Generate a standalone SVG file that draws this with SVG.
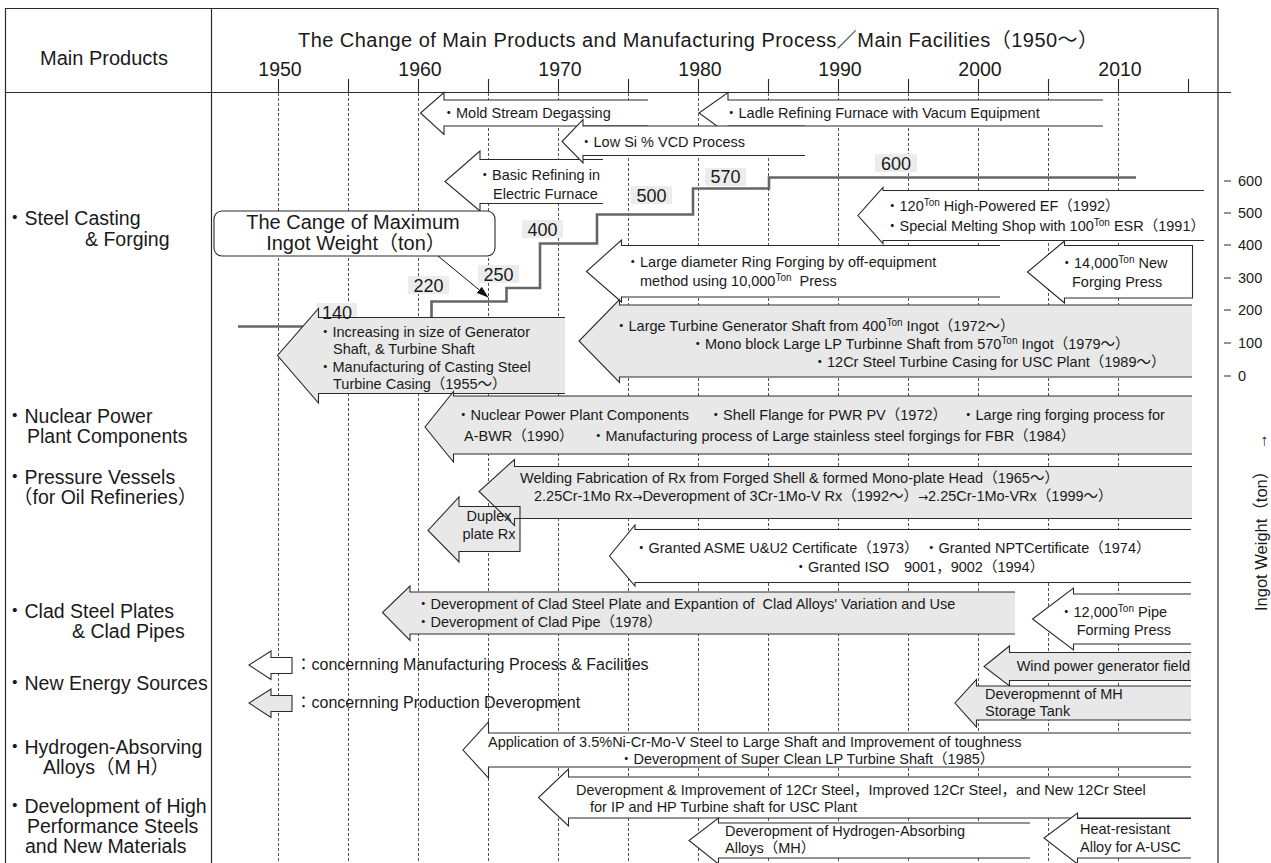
<svg xmlns="http://www.w3.org/2000/svg" width="1271" height="863" viewBox="0 0 1271 863">
<defs>
<style>
text{font-family:"Liberation Sans",Arial,"Noto Sans CJK JP",sans-serif;fill:#1a1a1a}
.fr{stroke:#2a2a2a;stroke-width:1.2;fill:none}
.gd{stroke:#555;stroke-width:1;stroke-dasharray:3 2;fill:none}
.tk{stroke:#2a2a2a;stroke-width:1.1}
.aw{fill:#fff;stroke:#2a2a2a;stroke-width:1.1}
.ag{fill:#e8e8e8;stroke:#2a2a2a;stroke-width:1.1}
.agf{fill:#e8e8e8;stroke:none}
.ago{fill:none;stroke:#2a2a2a;stroke-width:1.1}
.a{font-size:14.5px}
.h{font-size:19.5px}
.sp{font-size:10px}
.ar{font-family:"DejaVu Sans",sans-serif;font-size:12px}
.lb{font-size:18px;fill:#333}
.lbb{fill:#ececec}
.step{stroke:#666;stroke-width:2.6;fill:none}
.lg{font-size:16px}
.sc{font-size:14.5px}
</style>
<marker id="ah" viewBox="0 0 12 8" refX="12" refY="4" markerWidth="12" markerHeight="8" markerUnits="userSpaceOnUse" orient="auto"><path d="M0,0 L12,4 L0,8 z" fill="#111"/></marker>
</defs>
<rect width="1271" height="863" fill="#fff"/>

<g id="frame">
<path class="fr" d="M5.5 863 V8.5 H1218 V863 M211.5 8.5 V863 M5.5 92.5 H1231"/>
<g class="tk">
<path d="M278.5 79 V92.5 M348.5 79 V92.5 M418.5 79 V92.5 M488.5 79 V92.5 M558.5 79 V92.5 M628.5 79 V92.5 M698.5 79 V92.5 M768.5 79 V92.5 M838.5 79 V92.5 M908.5 79 V92.5 M978.5 79 V92.5 M1048.5 79 V92.5 M1118.5 79 V92.5 M1188.5 79 V92.5"/>
</g>
<text x="104" y="65" font-size="20" text-anchor="middle">Main Products</text>
<text x="298" y="47" font-size="20" textLength="800">The Change of Main Products and Manufacturing Process／Main Facilities（1950～）</text>
<g class="h" text-anchor="middle">
<text x="280" y="76">1950</text>
<text x="420" y="76">1960</text>
<text x="560" y="76">1970</text>
<text x="700" y="76">1980</text>
<text x="840" y="76">1990</text>
<text x="980" y="76">2000</text>
<text x="1120" y="76">2010</text>
</g>
</g>

<g id="grid" class="gd">
<path d="M278.5 93 V863 M348.5 93 V863 M418.5 93 V863 M488.5 93 V863 M558.5 93 V863 M628.5 93 V863 M698.5 93 V863 M768.5 93 V863 M838.5 93 V863 M908.5 93 V863 M978.5 93 V863 M1048.5 93 V863 M1118.5 93 V863"/>
</g>

<g id="products" class="h">
<text x="5" y="225">・Steel Casting</text>
<text x="85" y="246">&amp; Forging</text>
<text x="5" y="423">・Nuclear Power</text>
<text x="27" y="443">Plant Components</text>
<text x="5" y="484">・Pressure Vessels</text>
<text x="13" y="504">（for Oil Refineries）</text>
<text x="5" y="618">・Clad Steel Plates</text>
<text x="72" y="638">&amp; Clad Pipes</text>
<text x="5" y="690">・New Energy Sources</text>
<text x="5" y="754">・Hydrogen-Absorving</text>
<text x="43" y="774">Alloys（M H）</text>
<text x="5" y="813">・Development of High</text>
<text x="27" y="833">Performance Steels</text>
<text x="25" y="853">and New Materials</text>
</g>

<g id="weight-scale">
<path class="tk" d="M1224 181 H1231 M1224 213 H1231 M1224 245 H1231 M1224 278 H1231 M1224 310 H1231 M1224 343 H1231 M1224 376 H1231"/>
<g class="sc">
<text x="1238" y="186">600</text>
<text x="1238" y="218">500</text>
<text x="1238" y="250">400</text>
<text x="1238" y="283">300</text>
<text x="1238" y="315">200</text>
<text x="1238" y="348">100</text>
<text x="1238" y="381">0</text>
</g>
<text transform="translate(1267,611) rotate(-90)" font-size="16.5">Ingot Weight（ton）</text>
<text transform="translate(1267,449) rotate(-90)" font-family="DejaVu Sans, sans-serif" font-size="16">→</text>
</g>

<g id="mold-stream">
<path class="aw" d="M648 100 L444 100 L444 92.5 L420.5 113 L444 134.5 L444 126 L648 126"/>
</g>
<g id="ladle">
<path class="aw" d="M1103 100 L728 100 L728 92.5 L699 113 L728 134 L728 126 L1103 126"/>
</g>
<g id="basic-refining">
<path class="aw" d="M603 159.5 L480 159.5 L480 151 L445 181.5 L480 211 L480 203.5 L603 203.5"/>
</g>
<g id="low-si">
<path class="aw" d="M805 126 L583 126 L583 119.5 L562 141.5 L583 163 L583 155.5 L805 155.5"/>
</g>
<g id="ef-esr">
<path class="aw" d="M1204 190.5 L883 190.5 L883 187.5 L858 215.5 L883 243.5 L883 240.5 L1204 240.5"/>
</g>
<g id="ring-forging">
<path class="aw" d="M1000 245.5 L621.5 245.5 L621.5 240 L586.5 271.5 L621.5 302 L621.5 297 L1000 297"/>
</g>
<g id="press-14000">
<path class="aw" d="M1192.5 245.5 L1064.5 245.5 L1064.5 241 L1027.5 272 L1064.5 303 L1064.5 298 L1192.5 298 Z"/>
</g>
<g id="large-turbine">
<path class="ag" d="M1192 305 L619.5 305 L619.5 299.5 L579 341 L619.5 382.5 L619.5 377 L1192 377"/>
</g>

<g id="ingot-weight">
<path class="step" d="M238 326.5 H431.5 V301.5 H506.5 V288 H540 V243.5 H597 V214.5 H693 V188.5 H769 V177.5 H1136"/>
<rect class="lbb" x="317" y="303" width="40" height="18"/>
<rect class="lbb" x="408" y="276" width="41" height="18"/>
<rect class="lbb" x="478" y="265" width="41" height="18"/>
<rect class="lbb" x="522" y="220" width="41" height="18"/>
<rect class="lbb" x="631" y="186" width="41" height="18"/>
<rect class="lbb" x="705" y="168" width="41" height="18"/>
<rect class="lbb" x="875" y="154" width="42" height="18"/>
</g>

<g id="increasing">
<path class="ag" d="M565 317.5 L318.5 317.5 L318.5 308.5 L277.5 355.5 L318.5 403 L318.5 393.5 L565 393.5"/>
</g>
<g id="nuclear">
<path class="ag" d="M1192 396 L453.5 396 L453.5 391.5 L425 427 L453.5 462 L453.5 454 L1192 454"/>
</g>
<g id="duplex-bg">
<path class="agf" d="M520 506.5 L459 506.5 L459 497 L428 530.5 L459 562 L459 551.5 L520 551.5 Z"/>
</g>
<g id="welding">
<path class="ag" d="M1192 466.5 L514.5 466.5 L514.5 459.5 L479 491.5 L514.5 525.5 L514.5 518.5 L1192 518.5"/>
</g>
<g id="duplex">
<path class="ago" d="M520 506.5 L459 506.5 L459 497 L428 530.5 L459 562 L459 551.5 L520 551.5 Z"/>
</g>
<g id="granted">
<path class="aw" d="M1191 529.5 L635 529.5 L635 525 L609.5 556 L635 586 L635 582.5 L1191 582.5"/>
</g>
<g id="clad">
<path class="ag" d="M1015 592 L410 592 L410 586 L382.5 612.5 L410 640.5 L410 634 L1015 634"/>
</g>
<g id="press-12000">
<path class="aw" d="M1191 594 L1073.5 594 L1073.5 588 L1032.5 619 L1073.5 650 L1073.5 644 L1191 644"/>
</g>
<g id="wind">
<path class="ag" d="M1191 652.5 L1009.5 652.5 L1009.5 646 L984 666.5 L1009.5 686 L1009.5 680.5 L1191 680.5"/>
</g>
<g id="mh-tank">
<path class="ag" d="M1191 686 L976.5 686 L976.5 679.5 L955 703 L976.5 727 L976.5 720 L1191 720"/>
</g>
<g id="application">
<path class="aw" d="M1191 733 L488.5 733 L488.5 722 L463 750 L488.5 778 L488.5 767 L1191 767"/>
</g>
<g id="cr12">
<path class="aw" d="M1191 777 L568.5 777 L568.5 769 L538.5 797.5 L568.5 826 L568.5 818 L1191 818"/>
</g>
<g id="hydrogen">
<path class="aw" d="M1030 823 L718.5 823 L718.5 818 L689 840.5 L718.5 864 L718.5 858 L1030 858"/>
</g>
<g id="heat-resistant">
<path class="aw" d="M1191 818.5 L1077.5 818.5 L1077.5 813 L1044 838 L1077.5 864 L1077.5 858 L1191 858"/>
</g>
<g id="legend">
<path class="aw" d="M292 657.5 L271 657.5 L271 651 L249 665 L271 679.5 L271 673.5 L292 673.5 Z"/>
<path class="ag" d="M292 695.5 L271 695.5 L271 689 L249 703 L271 717.5 L271 711.5 L292 711.5 Z"/>
<text class="lg" x="295.5" y="670">：concernning Manufacturing Process &amp; Facilities</text>
<text class="lg" x="295.5" y="708">：concernning Production Deveropment</text>
</g>

<g id="callout">
<rect x="214" y="211" width="281" height="45" rx="8" fill="#fff" stroke="#2a2a2a" stroke-width="1.1"/>
<text x="353" y="229" font-size="20" text-anchor="middle">The Cange of Maximum</text>
<text x="356" y="250" font-size="20" text-anchor="middle">Ingot Weight（ton）</text>
</g>

<g id="connectors">
<line x1="438" y1="256" x2="488.5" y2="297.5" stroke="#111" stroke-width="1" marker-end="url(#ah)"/>
</g>

<g id="labels" class="a">
<text x="441.5" y="118">・Mold Stream Degassing</text>
<text x="724" y="118">・Ladle Refining Furnace with Vacum Equipment</text>
<text x="579" y="147">・Low Si % VCD Process</text>
<text x="477.5" y="180">・Basic Refining in</text>
<text x="493" y="199">Electric Furnace</text>
<text x="885" y="210.5">・120<tspan class="sp" dy="-5">Ton</tspan><tspan dy="5">&#160;High-Powered EF（1992）</tspan></text>
<text x="885" y="231">・Special Melting Shop with 100<tspan class="sp" dy="-5">Ton</tspan><tspan dy="5">&#160;ESR（1991）</tspan></text>
<text x="625.5" y="267">・Large diameter Ring Forging by off-equipment</text>
<text x="640" y="286">method using 10,000<tspan class="sp" dy="-5">Ton</tspan><tspan dy="5">&#160;&#160;Press</tspan></text>
<text x="1059.5" y="268">・14,000<tspan class="sp" dy="-5">Ton</tspan><tspan dy="5">&#160;New</tspan></text>
<text x="1072" y="287">Forging Press</text>
<text x="614" y="331">・Large Turbine Generator Shaft from 400<tspan class="sp" dy="-5">Ton</tspan><tspan dy="5">&#160;Ingot（1972～）</tspan></text>
<text x="690.5" y="349">・Mono block Large LP Turbinne Shaft from 570<tspan class="sp" dy="-5">Ton</tspan><tspan dy="5">&#160;Ingot（1979～）</tspan></text>
<text x="812.5" y="367">・12Cr Steel Turbine Casing for USC Plant（1989～）</text>
<text x="318" y="337">・Increasing in size of Generator</text>
<text x="333" y="354">Shaft, &amp; Turbine Shaft</text>
<text x="318" y="372">・Manufacturing of Casting Steel</text>
<text x="333" y="389">Turbine Casing（1955～）</text>
<text x="456" y="420">・Nuclear Power Plant Components</text>
<text x="708.5" y="420">・Shell Flange for PWR PV（1972）</text>
<text x="961" y="420">・Large ring forging process for</text>
<text x="464" y="441">A-BWR（1990）</text>
<text x="591" y="441">・Manufacturing process of Large stainless steel forgings for FBR（1984）</text>
<text x="520" y="483">Welding Fabrication of Rx from Forged Shell &amp; formed Mono-plate Head（1965～）</text>
<text x="534" y="501">2.25Cr-1Mo Rx<tspan class="ar">→</tspan>Deveropment of 3Cr-1Mo-V Rx（1992～）<tspan class="ar">→</tspan>2.25Cr-1Mo-VRx（1999～）</text>
<text x="489" y="521" text-anchor="middle">Duplex</text>
<text x="489" y="539" text-anchor="middle">plate Rx</text>
<text x="634" y="553">・Granted ASME U&amp;U2 Certificate（1973）</text>
<text x="924" y="553">・Granted NPTCertificate（1974）</text>
<text x="793.5" y="572">・Granted ISO　9001，9002（1994）</text>
<text x="416" y="609">・Deveropment of Clad Steel Plate and Expantion of&#160;&#160;Clad Alloys' Variation and Use</text>
<text x="416" y="627">・Deveropment of Clad Pipe（1978）</text>
<text x="1059" y="617">・12,000<tspan class="sp" dy="-5">Ton</tspan><tspan dy="5">&#160;Pipe</tspan></text>
<text x="1076.7" y="635">Forming Press</text>
<text x="1016.7" y="671">Wind power generator field</text>
<text x="985" y="699">Deveropmennt of MH</text>
<text x="985" y="716">Storage Tank</text>
<text x="488" y="747">Application of 3.5%Ni-Cr-Mo-V Steel to Large Shaft and Improvement of toughness</text>
<text x="619" y="764">・Deveropment of Super Clean LP Turbine Shaft（1985）</text>
<text x="576" y="795">Deveropment &amp; Improvement of 12Cr Steel，Improved 12Cr Steel，and New 12Cr Steel</text>
<text x="590" y="812">for IP and HP Turbine shaft for USC Plant</text>
<text x="725" y="836">Deveropment of Hydrogen-Absorbing</text>
<text x="725" y="853">Alloys（MH）</text>
<text x="1080" y="834">Heat-resistant</text>
<text x="1080" y="852">Alloy for A-USC</text>
</g>

<g id="weight-values" class="lb" text-anchor="middle">
<text x="337" y="318.5">140</text>
<text x="428.5" y="291.5">220</text>
<text x="498.5" y="280.5">250</text>
<text x="542.5" y="235.5">400</text>
<text x="651.5" y="201.5">500</text>
<text x="725.5" y="183">570</text>
<text x="896" y="169.5">600</text>
</g>
</svg>
